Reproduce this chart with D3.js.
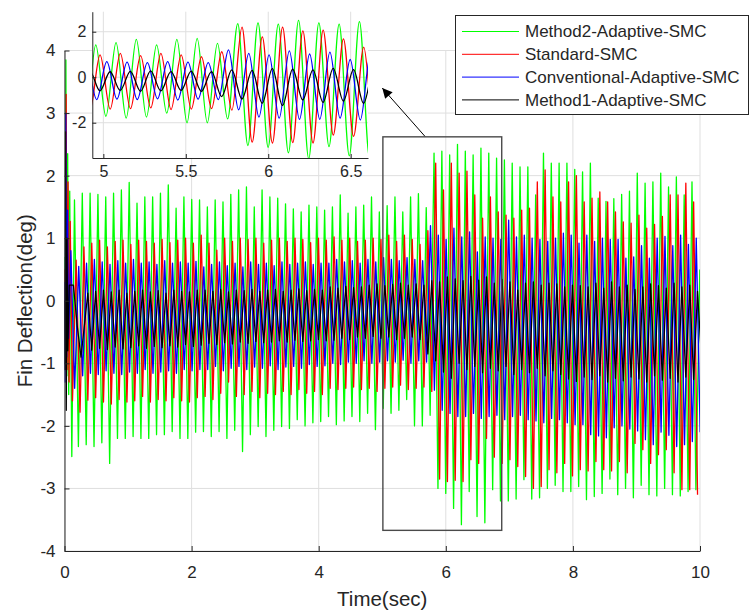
<!DOCTYPE html>
<html><head><meta charset="utf-8">
<script src="https://cdn.jsdelivr.net/npm/d3@7"></script>
<style>
body{margin:0;background:#fff}
svg{display:block}
text{font-family:"Liberation Sans",Arial,Helvetica,sans-serif;fill:#262626}
</style>
</head><body>
<svg id="c" width="750" height="610"></svg>
<script>
// ---------------- data ----------------
const seriesNames = ["Method2-Adaptive-SMC","Standard-SMC","Conventional-Adaptive-SMC","Method1-Adaptive-SMC"];
const seriesColors = ["#00ff00","#ff0000","#0000ff","#000000"];
const xTicks = [0,2,4,6,8,10];
const yTicks = [-4,-3,-2,-1,0,1,2,3,4];
const insetXTicks = [5,5.5,6,6.5];
const insetYTicks = [-2,0,2];
const period = 0.123;           // oscillation period (s)

// start transients [time, value]
const greenTransient = [[0,0.70],[0.010,-1.00],[0.022,3.85],[0.036,-1.20],[0.050,2.35],[0.066,-1.50],[0.082,1.75],[0.115,-2.49]];
const redTransient   = [[0,0.50],[0.012,-1.00],[0.026,3.30],[0.040,-1.10],[0.056,1.90],[0.072,-1.30],[0.090,1.27],[0.125,-1.60]];
const blueTransient  = [[0,0.30],[0.008,-1.30],[0.020,3.00],[0.034,-0.90],[0.048,1.45],[0.064,-0.60],[0.100,0.80],[0.160,-1.40]];
const blackTransient = [[0,0.00],[0.006,-1.10],[0.016,2.70],[0.028,-1.75],[0.040,1.00],[0.052,-0.80],[0.075,0.25],[0.140,0.25],[0.200,-0.40],[0.260,-0.90]];

// time of first periodic peak
const greenStart = 0.157, redStart = 0.183, blueStart = 0.224, blackStart = 0.367;

// cycle peaks and troughs
const greenPeaks = [
1.61,1.72,1.72,1.70,1.66,1.72,1.77,1.89,1.56,1.66,1.66,1.72,1.85,1.48,1.66,1.62,
1.61,1.50,1.61,1.58,1.70,1.77,1.82,1.50,1.77,1.66,1.64,1.55,1.47,1.42,1.53,1.50,
1.45,1.50,1.69,1.40,1.50,1.53,1.66,
1.42,1.52,1.66,1.42,1.66,1.71,1.49,
2.36,2.39,2.33,2.50,2.39,2.33,2.44,
2.36,2.28,2.25,2.20,2.14,2.14,1.69,2.36,2.20,2.20,2.20,2.10,
2.06,2.20,1.64,1.59,1.63,1.70,1.75,2.04,1.88,1.90,2.04,1.82,1.98,1.69,1.90,
0.50];
const greenTroughs = [
-2.33,-2.30,-2.33,-2.27,-2.60,-2.20,-2.20,-2.17,-2.20,-2.20,-2.14,-2.14,-2.09,-2.20,-2.20,-2.10,
-2.09,-2.17,-2.09,-2.20,-2.07,-2.41,-2.14,-2.01,-2.17,-2.07,-2.01,-2.04,-1.90,-2.00,-1.95,-1.93,
-1.85,-1.98,-1.92,-1.85,-1.93,-1.80,-2.06,
-1.72,-1.80,-1.75,-1.58,-2.00,-2.00,-1.83,
-3.00,-3.08,-3.32,-3.58,-3.05,-3.45,-3.55,
-3.02,-3.20,-3.20,-3.17,-2.86,-3.17,-3.15,-3.00,-2.95,-3.05,-3.05,
-2.97,-3.18,-3.13,-3.08,-2.85,-3.10,-3.00,-3.15,-2.95,-3.10,-3.12,-3.00,-3.10,-3.12,-3.05,-3.02];

const redPeaks = [
0.65,0.86,0.92,0.97,0.86,0.95,0.97,0.90,0.97,0.95,0.92,0.98,0.93,0.97,1.00,0.92,
1.05,0.92,0.81,1.00,0.95,1.00,0.98,1.00,0.92,0.97,1.00,0.95,1.00,0.98,0.93,1.00,
0.97,1.02,0.97,1.00,0.95,0.97,1.00,0.98,1.05,0.95,1.05,0.98,0.90,1.12,
2.20,1.77,2.20,2.04,2.07,1.69,1.32,1.66,1.42,1.37,1.32,1.45,1.48,1.90,2.09,1.66,1.58,1.90,
2.00,1.58,1.64,1.74,1.58,1.42,1.26,1.24,1.37,1.16,1.22,1.35,1.69,1.69,1.88,1.58];
const redTroughs = [
-1.78,-1.59,-1.55,-1.62,-1.65,-1.58,-1.62,-1.60,-1.53,-1.62,-1.58,-1.60,-1.55,-1.60,-1.62,-1.55,
-1.53,-1.58,-1.48,-1.30,-1.53,-1.50,-1.45,-1.55,-1.48,-1.50,-1.45,-1.50,-1.42,-1.48,-1.45,-1.50,
-1.40,-1.42,-1.40,-1.38,-1.42,-1.40,-1.45,-1.40,-1.38,-1.35,-1.42,-1.40,-1.38,-1.45,
-2.85,-2.89,-2.87,-2.89,-2.54,-2.60,-2.20,-2.50,-2.60,-2.54,-2.65,-2.81,-3.00,-2.97,-2.70,-2.75,-2.60,-2.80,
-2.70,-2.72,-2.57,-2.70,-2.72,-2.57,-2.75,-2.28,-2.38,-2.60,-2.46,-2.38,-2.75,-3.02,-3.02,-3.10];

const bluePeaks = [
0.55,0.60,0.66,0.62,0.58,0.64,0.60,0.66,0.60,0.62,0.58,0.64,0.60,0.62,0.60,0.63,
0.54,0.58,0.62,0.56,0.60,0.54,0.62,0.58,0.60,0.56,0.62,0.58,0.60,0.62,0.58,0.60,
0.60,0.66,0.62,0.64,0.60,0.66,0.62,0.69,0.66,0.64,0.69,0.66,0.64,
1.20,1.05,0.98,1.16,1.02,1.10,0.78,1.02,
1.00,0.98,1.29,1.02,1.05,1.00,0.98,0.95,1.00,1.08,1.05,
0.92,1.05,0.95,1.00,0.98,0.98,0.68,0.70,0.88,0.68,1.00,1.03,0.88,1.05,0.90,1.00];
const blueTroughs = [
-1.20,-1.16,-1.18,-1.12,-1.16,-1.18,-1.14,-1.16,-1.10,-1.16,-1.14,-1.12,-1.16,-1.10,-1.12,-1.10,
-1.10,-1.05,-1.12,-1.08,-1.05,-1.10,-1.06,-1.08,-1.04,-1.10,-1.06,-1.05,-1.08,-1.02,-1.05,-1.04,
-1.00,-1.02,-0.98,-1.00,-0.96,-1.00,-0.98,-0.96,-0.98,-0.95,-1.00,-0.96,-0.98,
-1.43,-1.75,-1.80,-1.85,-1.85,-1.80,-1.88,-1.85,
-1.83,-1.90,-1.85,-1.83,-1.90,-1.92,-1.95,-1.88,-1.90,-1.95,-1.98,
-1.98,-2.14,-2.16,-2.19,-2.03,-2.00,-2.05,-2.08,-2.22,-2.30,-2.10,-2.15,-2.33,-2.30,-2.25,-2.10];

const blackPeaks = [
0.12,0.15,0.17,0.14,0.17,0.12,0.15,0.17,0.14,0.16,0.12,0.17,0.15,0.14,0.17,
0.17,0.15,0.18,0.14,0.17,0.16,0.18,0.15,0.17,0.18,0.15,0.17,0.19,0.16,0.18,0.17,
0.22,0.20,0.23,0.21,0.22,0.25,0.27,0.24,0.26,0.28,0.25,0.27,
0.25,0.32,0.30,0.38,0.35,0.32,0.39,0.33,0.38,0.28,0.34,0.30,0.17,0.28,0.30,0.25,0.28,0.27,
0.22,0.25,0.24,0.22,0.28,0.20,0.30,0.22,0.25,0.18,0.22,0.27,0.24,0.20,0.28,0.22,0.25,0.15];
const blackTroughs = [
-0.79,-0.76,-0.78,-0.74,-0.77,-0.75,-0.72,-0.76,-0.73,-0.75,-0.72,-0.74,-0.70,-0.73,-0.71,
-0.68,-0.70,-0.67,-0.69,-0.66,-0.68,-0.65,-0.67,-0.66,-0.64,-0.66,-0.63,-0.65,-0.64,-0.62,-0.64,
-0.63,-0.60,-0.62,-0.58,-0.60,-0.57,-0.60,-0.58,-0.62,-0.60,-0.58,-0.62,
-0.85,-0.96,-1.14,-1.24,-1.00,-1.10,-1.05,-1.15,-1.08,-1.12,-1.05,-1.18,-1.10,-1.15,-1.08,-1.20,-1.12,-1.18,
-1.25,-1.29,-1.22,-1.26,-1.20,-1.30,-1.24,-1.28,-1.22,-1.25,-1.30,-1.20,-1.27,-1.24,-1.30,-1.22,-1.26,-0.90];

// annotations (data coordinates of the main axes)
const zoomBox = {t0:5.01, t1:6.88, v0:-3.67, v1:2.62};
const arrowFrom = [5.67, 2.63], arrowTo = [5.00, 3.40];

// ---------------- build series ----------------
function buildSeries(trans, start, peaks, troughs){
  const pts = trans.slice();
  for (let i = 0; i < peaks.length; i++){
    pts.push([start + i*period, peaks[i]]);
    if (i < troughs.length) pts.push([start + i*period + period/2, troughs[i]]);
  }
  return pts;
}
const series = [
  buildSeries(greenTransient, greenStart, greenPeaks, greenTroughs),
  buildSeries(redTransient, redStart, redPeaks, redTroughs),
  buildSeries(blueTransient, blueStart, bluePeaks, blueTroughs),
  buildSeries(blackTransient, blackStart, blackPeaks, blackTroughs)
];

// ---------------- drawing ----------------
const svg = d3.select("#c");
const axisColor = "#262626", gridColor = "#dfdfdf";
const FONT = '"Liberation Sans",Arial,sans-serif';

const M = {l:64.5, r:700, t:50.5, b:551};
const x = d3.scaleLinear([0,10],[M.l,M.r]);
const y = d3.scaleLinear([-4,4],[M.b,M.t]);

const defs = svg.append("defs");
defs.append("clipPath").attr("id","clipMain").append("rect")
  .attr("x",M.l).attr("y",M.t).attr("width",M.r-M.l).attr("height",M.b-M.t);

const gMain = svg.append("g");
gMain.selectAll(".gx").data(xTicks).join("line")
  .attr("x1",d=>x(d)).attr("x2",d=>x(d)).attr("y1",M.t).attr("y2",M.b)
  .attr("stroke",gridColor).attr("stroke-width",1);
gMain.selectAll(".gy").data(yTicks).join("line")
  .attr("x1",M.l).attr("x2",M.r).attr("y1",d=>y(d)).attr("y2",d=>y(d))
  .attr("stroke",gridColor).attr("stroke-width",1);

const lineMain = d3.line().x(d=>x(d[0])).y(d=>y(d[1]));
const gLines = gMain.append("g").attr("clip-path","url(#clipMain)");
series.forEach((s,i)=>{
  gLines.append("path").attr("d",lineMain(s)).attr("fill","none")
    .attr("stroke",seriesColors[i]).attr("stroke-width",1.3).attr("stroke-linejoin","round");
});

const xAxis = d3.axisBottom(x).tickValues(xTicks).tickFormat(d=>String(d)).tickSizeInner(-5).tickSizeOuter(0).tickPadding(15);
const yAxis = d3.axisLeft(y).tickValues(yTicks).tickFormat(d=>String(d)).tickSizeInner(-5).tickSizeOuter(0).tickPadding(9);
const gx = svg.append("g").attr("transform",`translate(0,${M.b})`).call(xAxis);
const gy = svg.append("g").attr("transform",`translate(${M.l},0)`).call(yAxis);
[gx,gy].forEach(g=>{
  g.select(".domain").attr("stroke",axisColor);
  g.selectAll(".tick line").attr("stroke",axisColor);
  g.selectAll(".tick text").attr("fill",axisColor).style("font-size","17px").style("font-family",FONT);
});

svg.append("text").attr("x",(M.l+M.r)/2).attr("y",606).attr("text-anchor","middle")
  .style("font-size","20.5px").text("Time(sec)");
svg.append("text").attr("transform",`translate(32,${(M.t+M.b)/2}) rotate(-90)`).attr("text-anchor","middle")
  .style("font-size","20.5px").text("Fin Deflection(deg)");

svg.append("rect").attr("x",x(zoomBox.t0)).attr("y",y(zoomBox.v1))
  .attr("width",x(zoomBox.t1)-x(zoomBox.t0)).attr("height",y(zoomBox.v0)-y(zoomBox.v1))
  .attr("fill","none").attr("stroke","#4a4a4a").attr("stroke-width",1.4);
defs.append("marker").attr("id","ah").attr("viewBox","0 0 10 10").attr("refX",10).attr("refY",5)
  .attr("markerWidth",14).attr("markerHeight",10).attr("markerUnits","userSpaceOnUse").attr("orient","auto")
  .append("path").attr("d","M0,0 L10,5 L0,10 Z").attr("fill","#000");
svg.append("line").attr("x1",x(arrowFrom[0])).attr("y1",y(arrowFrom[1]))
  .attr("x2",x(arrowTo[0])).attr("y2",y(arrowTo[1]))
  .attr("stroke","#000").attr("stroke-width",1).attr("marker-end","url(#ah)");

// ---------------- inset ----------------
const I = {l:92.3, r:368, t:11.7, b:158};
const xi = d3.scaleLinear([4.933,6.605],[I.l,I.r]);
const yi = d3.scaleLinear([-3.55,2.88],[I.b,I.t]);
defs.append("clipPath").attr("id","clipInset").append("rect")
  .attr("x",I.l).attr("y",I.t).attr("width",I.r-I.l).attr("height",I.b-I.t);
const gIn = svg.append("g");
gIn.append("rect").attr("x",I.l).attr("y",I.t).attr("width",I.r-I.l).attr("height",I.b-I.t).attr("fill","#fff");
gIn.selectAll(".igx").data(insetXTicks).join("line")
  .attr("x1",d=>xi(d)).attr("x2",d=>xi(d)).attr("y1",I.t).attr("y2",I.b).attr("stroke",gridColor);
gIn.selectAll(".igy").data(insetYTicks).join("line")
  .attr("x1",I.l).attr("x2",I.r).attr("y1",d=>yi(d)).attr("y2",d=>yi(d)).attr("stroke",gridColor);
const lineIn = d3.line().curve(d3.curveMonotoneX).x(d=>xi(d[0])).y(d=>yi(d[1]));
const gInL = gIn.append("g").attr("clip-path","url(#clipInset)");
series.forEach((s,i)=>{
  gInL.append("path").attr("d",lineIn(s)).attr("fill","none")
    .attr("stroke",seriesColors[i]).attr("stroke-width",1.3);
});
const xiAxis = d3.axisBottom(xi).tickValues(insetXTicks).tickFormat(d=>String(d)).tickSizeInner(-4).tickSizeOuter(0).tickPadding(8);
const yiAxis = d3.axisLeft(yi).tickValues(insetYTicks).tickFormat(d=>String(d)).tickSizeInner(-4).tickSizeOuter(0).tickPadding(6);
const gxi = gIn.append("g").attr("transform",`translate(0,${I.b})`).call(xiAxis);
const gyi = gIn.append("g").attr("transform",`translate(${I.l},0)`).call(yiAxis);
[gxi,gyi].forEach(g=>{
  g.select(".domain").attr("stroke",axisColor);
  g.selectAll(".tick line").attr("stroke",axisColor);
  g.selectAll(".tick text").attr("fill",axisColor).style("font-size","16px").style("font-family",FONT);
});

// ---------------- legend ----------------
const L = {x:455.5, y:15.5, w:293, h:99};
const gL = svg.append("g");
gL.append("rect").attr("x",L.x).attr("y",L.y).attr("width",L.w).attr("height",L.h)
  .attr("fill","#fff").attr("stroke",axisColor).attr("stroke-width",1);
seriesNames.forEach((n,i)=>{
  const yy = 31.5 + i*22.8;
  gL.append("line").attr("x1",462).attr("x2",519).attr("y1",yy).attr("y2",yy)
    .attr("stroke",seriesColors[i]).attr("stroke-width",1);
  gL.append("text").attr("x",525).attr("y",yy).attr("dy","0.35em")
    .style("font-size","17px").attr("fill","#000").text(n);
});
</script>
</body></html>
